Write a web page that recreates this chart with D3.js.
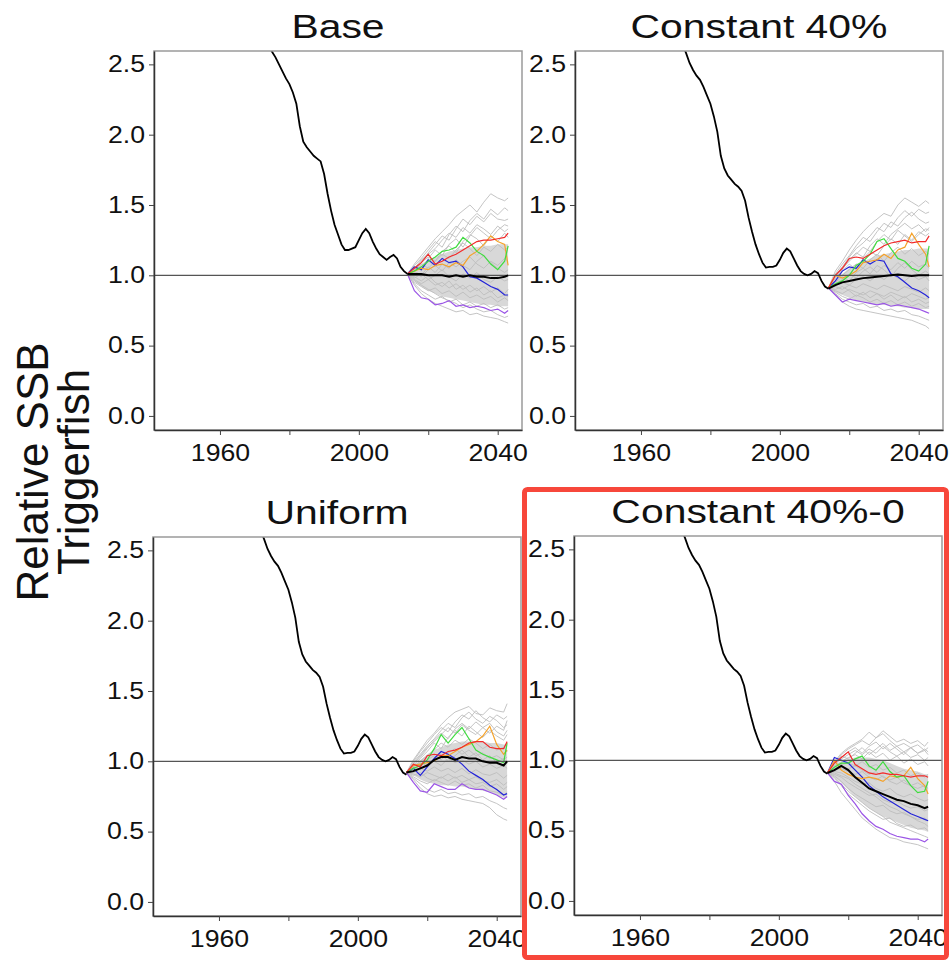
<!DOCTYPE html>
<html>
<head>
<meta charset="utf-8">
<script src="https://cdn.jsdelivr.net/npm/d3@7"></script>
<style>
  body { margin: 0; background: #fff; }
  text { font-family: "Liberation Sans", Arial, sans-serif; }
</style>
</head>
<body>
<script>
// ---- data ----
const panelTitles = ["Base", "Constant 40%", "Uniform", "Constant 40%-0"];

const histYears = [1970,1971,1972,1973,1974,1975,1976,1977,1978,1979,1980,1981,1982,1983,1984,1985,1986,1987,1988,1989,
  1990,1991,1992,1993,1994,1995,1996,1997,1998,1999,2000,2001,2002,2003,2004,2005,2006,2007,2008,2009,2010,2011,2012,2013,2014];
// base model scaled history
const histBase = [2.80,2.76,2.72,2.67,2.63,2.59,2.55,2.50,2.45,2.40,2.36,2.30,2.22,2.06,1.95,1.91,1.88,1.85,1.83,1.81,
  1.72,1.58,1.46,1.36,1.29,1.22,1.18,1.18,1.19,1.20,1.25,1.30,1.33,1.30,1.24,1.19,1.15,1.13,1.11,1.13,1.145,1.12,1.06,1.03,1.01];
// history used by the other three scenarios
const histOther = [2.75,2.70,2.64,2.58,2.51,2.46,2.42,2.39,2.34,2.28,2.22,2.13,2.02,1.85,1.76,1.71,1.68,1.65,1.63,1.60,
  1.53,1.41,1.31,1.22,1.15,1.09,1.055,1.06,1.06,1.07,1.11,1.16,1.19,1.17,1.12,1.07,1.03,1.01,1.00,1.01,1.03,1.015,0.96,0.92,0.905];

const projYears = [2014,2016,2018,2020,2022,2024,2026,2028,2030,2032,2034,2036,2038,2040,2042,2043];

// Base
const medBase    = [1.01,1.01,1.01,1.00,1.00,1.00,0.99,1.00,0.99,1.00,0.99,0.99,0.98,0.98,0.99,1.00];
const redBase    = [1.01,1.05,1.09,1.15,1.08,1.10,1.13,1.15,1.18,1.21,1.24,1.25,1.25,1.26,1.27,1.30];
const greenBase  = [1.01,1.03,1.06,1.10,1.13,1.17,1.18,1.20,1.27,1.23,1.17,1.14,1.08,1.04,1.10,1.21];
const orangeBase = [1.01,1.03,1.05,1.04,1.07,1.08,1.06,1.09,1.07,1.14,1.17,1.22,1.28,1.24,1.22,1.07];
const blueBase   = [1.01,1.06,1.04,1.11,1.07,1.12,1.09,1.10,1.06,0.99,0.98,0.95,0.92,0.90,0.86,0.86];
const purpleBase = [1.01,0.89,0.84,0.83,0.79,0.80,0.82,0.78,0.79,0.77,0.78,0.77,0.75,0.76,0.73,0.75];
const bandHiBase = [1.01,1.05,1.08,1.11,1.13,1.15,1.17,1.18,1.19,1.20,1.20,1.21,1.21,1.22,1.22,1.22];
const bandLoBase = [1.01,0.96,0.92,0.89,0.87,0.85,0.84,0.83,0.82,0.81,0.80,0.79,0.79,0.78,0.78,0.78];
const grayBase = [
  [1.01,1.08,1.14,1.20,1.26,1.31,1.36,1.42,1.46,1.50,1.45,1.52,1.58,1.55,1.53,1.55],
  [1.01,1.05,1.10,1.16,1.22,1.28,1.25,1.33,1.40,1.36,1.42,1.38,1.44,1.40,1.39,1.40],
  [1.01,1.06,1.04,1.12,1.18,1.14,1.22,1.26,1.20,1.28,1.34,1.30,1.26,1.32,1.36,1.35],
  [1.01,1.03,1.08,1.05,1.10,1.15,1.12,1.18,1.23,1.19,1.14,1.20,1.17,1.22,1.18,1.20],
  [1.01,1.02,0.99,1.04,1.07,1.03,1.09,1.06,1.10,1.13,1.08,1.05,1.10,1.07,1.12,1.10],
  [1.01,0.98,1.01,0.97,1.00,1.04,0.99,0.96,1.01,0.98,1.02,0.97,0.95,0.99,0.96,0.97],
  [1.01,0.97,0.94,0.97,0.93,0.95,0.91,0.94,0.90,0.93,0.89,0.92,0.88,0.91,0.87,0.90],
  [1.01,0.95,0.92,0.89,0.91,0.87,0.89,0.85,0.88,0.84,0.86,0.83,0.85,0.81,0.84,0.82],
  [1.01,0.94,0.89,0.86,0.83,0.85,0.81,0.83,0.79,0.81,0.78,0.80,0.77,0.79,0.76,0.77],
  [1.01,0.93,0.87,0.83,0.80,0.78,0.76,0.74,0.75,0.72,0.73,0.71,0.70,0.69,0.67,0.66],
  [1.01,1.04,1.09,1.13,1.10,1.17,1.21,1.16,1.24,1.29,1.26,1.21,1.28,1.24,1.30,1.27],
  [1.01,0.99,0.96,1.00,0.95,0.92,0.96,0.90,0.93,0.88,0.91,0.86,0.89,0.84,0.86,0.85],
  [1.01,1.07,1.12,1.18,1.24,1.20,1.29,1.35,1.31,1.39,1.44,1.40,1.47,1.43,1.48,1.46],
  [1.01,1.05,1.11,1.15,1.19,1.25,1.30,1.27,1.34,1.30,1.36,1.33,1.29,1.35,1.31,1.33],
  [1.01,1.03,1.00,1.06,1.02,1.08,1.05,1.11,1.07,1.04,1.10,1.14,1.09,1.05,1.02,1.04],
  [1.01,0.96,0.93,0.90,0.87,0.84,0.82,0.80,0.77,0.79,0.76,0.74,0.75,0.72,0.70,0.71]
];

// Constant 40%
const medC40    = [0.905,0.93,0.95,0.96,0.97,0.98,0.985,0.99,0.995,1.00,1.005,1.00,0.995,1.00,1.00,1.00];
const redC40    = [0.91,1.00,1.05,1.12,1.13,1.12,1.15,1.18,1.21,1.23,1.24,1.25,1.23,1.24,1.24,1.28];
const greenC40  = [0.91,0.94,0.96,1.00,1.07,1.10,1.15,1.24,1.26,1.19,1.12,1.10,1.05,1.03,1.08,1.21];
const orangeC40 = [0.91,1.00,0.98,1.00,1.03,1.09,1.10,1.11,1.15,1.12,1.18,1.20,1.30,1.22,1.15,1.06];
const blueC40   = [0.91,0.96,1.03,1.06,1.05,1.11,1.08,1.11,1.10,1.01,0.99,0.95,0.91,0.89,0.86,0.84];
const purpleC40 = [0.91,0.86,0.81,0.83,0.82,0.81,0.80,0.79,0.80,0.78,0.79,0.78,0.77,0.76,0.74,0.73];
const bandHiC40 = [0.91,0.97,1.01,1.05,1.08,1.10,1.12,1.14,1.15,1.16,1.17,1.18,1.18,1.19,1.19,1.19];
const bandLoC40 = [0.91,0.88,0.86,0.84,0.82,0.81,0.80,0.79,0.79,0.78,0.78,0.77,0.77,0.76,0.76,0.76];
const grayC40 = [
  [0.91,1.03,1.10,1.18,1.25,1.31,1.36,1.40,1.44,1.42,1.50,1.55,1.52,1.49,1.53,1.51],
  [0.91,1.00,1.06,1.13,1.19,1.23,1.28,1.34,1.31,1.38,1.35,1.41,1.45,1.40,1.37,1.38],
  [0.91,0.98,1.03,1.08,1.04,1.12,1.17,1.14,1.21,1.26,1.22,1.29,1.25,1.31,1.28,1.30],
  [0.91,0.96,1.00,1.04,1.08,1.05,1.11,1.15,1.10,1.16,1.20,1.15,1.19,1.14,1.17,1.15],
  [0.91,0.94,0.97,1.01,0.98,1.03,1.06,1.02,1.07,1.04,1.09,1.05,1.10,1.06,1.08,1.05],
  [0.91,0.93,0.95,0.93,0.97,0.99,0.96,1.00,0.97,1.01,0.98,0.96,1.00,0.97,0.99,0.96],
  [0.91,0.92,0.90,0.93,0.91,0.94,0.92,0.90,0.93,0.91,0.89,0.92,0.90,0.88,0.91,0.89],
  [0.91,0.89,0.87,0.90,0.88,0.86,0.89,0.87,0.85,0.88,0.86,0.84,0.87,0.85,0.83,0.84],
  [0.91,0.88,0.85,0.83,0.86,0.84,0.81,0.83,0.80,0.82,0.79,0.81,0.78,0.80,0.77,0.78],
  [0.91,0.86,0.81,0.78,0.76,0.75,0.74,0.73,0.72,0.71,0.70,0.69,0.68,0.66,0.64,0.62],
  [0.91,0.99,1.05,1.10,1.15,1.20,1.17,1.24,1.29,1.25,1.32,1.28,1.24,1.29,1.33,1.32],
  [0.91,0.90,0.92,0.89,0.85,0.88,0.84,0.87,0.83,0.86,0.82,0.85,0.81,0.83,0.80,0.81],
  [0.91,1.01,1.08,1.14,1.21,1.27,1.24,1.31,1.37,1.34,1.41,1.46,1.42,1.47,1.44,1.45],
  [0.91,0.98,1.04,1.11,1.16,1.13,1.21,1.26,1.22,1.29,1.33,1.37,1.33,1.36,1.31,1.34],
  [0.91,0.95,0.99,0.96,1.02,1.05,1.01,1.07,1.04,0.99,1.05,1.09,1.04,1.00,1.03,1.01],
  [0.91,0.87,0.83,0.81,0.79,0.80,0.77,0.78,0.75,0.76,0.74,0.75,0.72,0.71,0.69,0.68]
];

// Uniform
const medUni    = [0.92,0.93,0.95,0.97,1.01,1.03,1.03,1.01,1.03,1.02,1.02,1.00,0.99,0.99,0.97,1.00];
const redUni    = [0.92,0.98,0.96,1.04,1.05,1.04,1.07,1.08,1.10,1.13,1.14,1.14,1.10,1.09,1.09,1.14];
const greenUni  = [0.92,0.95,0.97,1.01,1.09,1.19,1.13,1.19,1.24,1.16,1.08,1.05,1.03,1.01,0.99,1.13];
const orangeUni = [0.92,0.97,0.98,0.99,1.00,1.04,1.04,1.07,1.10,1.12,1.14,1.18,1.25,1.12,1.05,1.08];
const blueUni   = [0.92,0.95,0.90,0.96,1.02,1.07,1.05,1.02,0.98,0.93,0.90,0.87,0.83,0.80,0.76,0.77];
const purpleUni = [0.92,0.85,0.79,0.78,0.84,0.82,0.80,0.80,0.84,0.81,0.80,0.80,0.78,0.76,0.73,0.75];
const bandHiUni = [0.92,0.97,1.01,1.05,1.08,1.10,1.12,1.13,1.14,1.14,1.14,1.14,1.13,1.13,1.12,1.12];
const bandLoUni = [0.92,0.90,0.87,0.85,0.84,0.83,0.83,0.82,0.82,0.81,0.80,0.79,0.78,0.76,0.74,0.74];
const grayUni = [
  [0.92,1.01,1.08,1.15,1.20,1.26,1.31,1.35,1.37,1.39,1.34,1.33,1.38,1.36,1.35,1.41],
  [0.92,0.99,1.05,1.11,1.16,1.22,1.27,1.24,1.31,1.35,1.30,1.27,1.32,1.29,1.24,1.26],
  [0.92,0.97,1.02,1.07,1.13,1.09,1.17,1.22,1.18,1.25,1.21,1.17,1.22,1.18,1.15,1.19],
  [0.92,0.96,1.00,1.04,1.08,1.13,1.10,1.15,1.12,1.16,1.13,1.09,1.12,1.08,1.10,1.07],
  [0.92,0.94,0.97,1.01,1.04,1.01,1.06,1.09,1.05,1.08,1.04,1.06,1.02,1.04,1.01,1.03],
  [0.92,0.95,0.94,0.98,1.00,0.97,1.02,0.99,1.01,0.98,1.00,0.96,0.98,0.95,0.97,0.95],
  [0.92,0.92,0.95,0.93,0.96,0.93,0.95,0.92,0.95,0.91,0.94,0.91,0.90,0.92,0.88,0.90],
  [0.92,0.91,0.89,0.92,0.90,0.88,0.91,0.88,0.90,0.87,0.89,0.86,0.85,0.87,0.83,0.85],
  [0.92,0.89,0.86,0.84,0.87,0.85,0.83,0.86,0.83,0.84,0.81,0.83,0.79,0.78,0.76,0.78],
  [0.92,0.87,0.81,0.77,0.75,0.76,0.74,0.75,0.73,0.72,0.71,0.70,0.67,0.62,0.59,0.58],
  [0.92,0.98,1.03,1.09,1.15,1.20,1.16,1.23,1.27,1.23,1.28,1.24,1.20,1.25,1.22,1.29],
  [0.92,0.90,0.92,0.88,0.86,0.89,0.86,0.89,0.85,0.87,0.84,0.85,0.82,0.84,0.80,0.82],
  [0.92,1.00,1.07,1.13,1.19,1.24,1.21,1.28,1.33,1.30,1.36,1.31,1.28,1.33,1.30,1.32],
  [0.92,0.98,1.04,1.10,1.14,1.19,1.24,1.20,1.26,1.22,1.19,1.24,1.27,1.21,1.18,1.22],
  [0.92,0.96,0.99,0.97,1.02,1.05,1.00,1.04,1.08,1.03,1.06,1.01,1.04,0.99,1.02,0.98],
  [0.92,0.88,0.84,0.80,0.78,0.80,0.77,0.78,0.76,0.77,0.74,0.75,0.72,0.70,0.67,0.66]
];

// Constant 40%-0
const medC40z    = [0.91,0.93,0.96,0.93,0.88,0.84,0.80,0.78,0.76,0.74,0.72,0.71,0.69,0.68,0.66,0.67];
const redC40z    = [0.91,0.98,1.02,1.06,0.97,0.94,0.91,0.90,0.91,0.90,0.90,0.89,0.88,0.89,0.89,0.88];
const greenC40z  = [0.91,0.95,0.98,0.98,1.01,1.03,0.96,0.93,0.99,0.92,0.88,0.89,0.82,0.77,0.78,0.85];
const orangeC40z = [0.91,1.00,0.93,0.90,0.88,0.87,0.88,0.87,0.85,0.89,0.88,0.89,0.95,0.87,0.82,0.76];
const blueC40z   = [0.91,1.02,1.00,0.98,0.93,0.88,0.82,0.78,0.74,0.71,0.68,0.65,0.62,0.60,0.58,0.57];
const purpleC40z = [0.91,0.85,0.83,0.75,0.69,0.62,0.57,0.53,0.51,0.48,0.46,0.45,0.44,0.44,0.42,0.44];
const bandHiC40z = [0.91,0.96,0.99,1.01,1.02,1.02,1.02,1.01,1.00,0.98,0.96,0.94,0.93,0.92,0.90,0.90];
const bandLoC40z = [0.91,0.88,0.84,0.79,0.74,0.70,0.66,0.63,0.60,0.58,0.56,0.54,0.52,0.51,0.50,0.49];
const grayC40z = [
  [0.91,0.99,1.05,1.09,1.12,1.15,1.20,1.16,1.21,1.17,1.13,1.15,1.12,1.14,1.10,1.13],
  [0.91,0.97,1.02,1.06,1.09,1.05,1.10,1.13,1.08,1.12,1.08,1.04,1.09,1.05,1.07,1.04],
  [0.91,0.96,0.99,1.02,1.04,1.01,1.06,1.02,1.05,1.00,1.03,0.98,1.01,0.97,0.99,0.96],
  [0.91,0.94,0.97,0.98,0.96,0.99,0.95,0.97,0.93,0.95,0.91,0.93,0.89,0.91,0.88,0.90],
  [0.91,0.93,0.94,0.92,0.90,0.92,0.88,0.86,0.89,0.85,0.83,0.86,0.82,0.80,0.82,0.80],
  [0.91,0.92,0.91,0.88,0.85,0.83,0.84,0.80,0.78,0.80,0.76,0.74,0.76,0.73,0.71,0.72],
  [0.91,0.90,0.88,0.84,0.81,0.78,0.75,0.76,0.72,0.70,0.71,0.68,0.66,0.67,0.64,0.65],
  [0.91,0.89,0.85,0.80,0.76,0.73,0.70,0.67,0.68,0.64,0.62,0.63,0.60,0.58,0.59,0.57],
  [0.91,0.87,0.82,0.76,0.72,0.68,0.64,0.61,0.58,0.59,0.55,0.53,0.54,0.51,0.52,0.50],
  [0.91,0.85,0.77,0.71,0.65,0.59,0.55,0.51,0.48,0.45,0.44,0.42,0.41,0.40,0.38,0.37],
  [0.91,0.98,1.03,1.01,1.05,1.09,1.04,1.08,1.12,1.07,1.10,1.06,1.09,1.05,1.08,1.06],
  [0.91,0.91,0.89,0.87,0.83,0.80,0.77,0.74,0.70,0.67,0.65,0.62,0.60,0.57,0.55,0.53],
  [0.91,0.98,1.04,1.08,1.11,1.14,1.11,1.16,1.19,1.14,1.10,1.12,1.09,1.11,1.07,1.09],
  [0.91,0.96,1.01,1.04,1.07,1.04,1.08,1.05,1.10,1.06,1.03,1.06,1.02,1.04,1.00,1.02],
  [0.91,0.93,0.95,0.94,0.96,0.93,0.90,0.92,0.88,0.86,0.88,0.84,0.82,0.84,0.81,0.83],
  [0.91,0.88,0.83,0.78,0.74,0.70,0.66,0.63,0.60,0.56,0.54,0.52,0.50,0.48,0.46,0.45]
];

const yTicks = [0, 0.5, 1, 1.5, 2, 2.5];
const xTicks = [1960, 1980, 2000, 2020, 2040];
const xTickLabels = [1960, 2000, 2040];

// ---- assemble panels ----
const panels = [
  { title: panelTitles[0], hist: histBase,  med: medBase,  gray: grayBase,  hi: bandHiBase, lo: bandLoBase,
    runs: [purpleBase, blueBase, orangeBase, greenBase, redBase] },
  { title: panelTitles[1], hist: histOther, med: medC40,   gray: grayC40,   hi: bandHiC40,  lo: bandLoC40,
    runs: [purpleC40, blueC40, orangeC40, greenC40, redC40] },
  { title: panelTitles[2], hist: histOther, med: medUni,   gray: grayUni,   hi: bandHiUni,  lo: bandLoUni,
    runs: [purpleUni, blueUni, orangeUni, greenUni, redUni] },
  { title: panelTitles[3], hist: histOther, med: medC40z,  gray: grayC40z,  hi: bandHiC40z, lo: bandLoC40z,
    runs: [purpleC40z, blueC40z, orangeC40z, greenC40z, redC40z] }
];
const runColors = ["#9b55e6", "#2323d8", "#f5a22a", "#3fdc3f", "#f22a2a"];

// panel plot areas (left, top)
const layout = [{ x: 154, y: 51 }, { x: 575, y: 51 }, { x: 153, y: 537 }, { x: 574, y: 536 }];
const pw = 368, ph = 379;
const stretch = 1.16; // the source figure's tick text is drawn a little wide

const svg = d3.select("body").append("svg")
    .attr("width", 951)
    .attr("height", 961);

panels.forEach((p, i) => {
    const left = layout[i].x, top = layout[i].y;
    const x = d3.scaleLinear().domain([1941, 2047]).range([left, left + pw]);
    const y = d3.scaleLinear().domain([-0.1, 2.595]).range([top + ph, top]);

    const g = svg.append("g");
    g.append("clipPath").attr("id", "clip" + i)
        .append("rect").attr("x", left).attr("y", top).attr("width", pw).attr("height", ph);

    const plot = g.append("g").attr("clip-path", `url(#clip${i})`);
    const line = d3.line().x(d => x(d[0])).y(d => y(d[1]));
    const proj = vals => projYears.map((yr, k) => [yr, vals[k]]);

    // dense core of the simulation cloud
    plot.append("path")
        .datum(projYears.map((yr, k) => [yr, p.lo[k], p.hi[k]]))
        .attr("fill", "#d8d8d8")
        .attr("d", d3.area().x(d => x(d[0])).y0(d => y(d[1])).y1(d => y(d[2])));

    // individual simulations
    plot.selectAll(".gray")
        .data(p.gray)
        .enter().append("path")
        .attr("class", "gray")
        .attr("fill", "none")
        .attr("stroke", "#bdbdbd")
        .attr("stroke-width", 0.9)
        .attr("d", d => line(proj(d)));

    plot.selectAll(".run")
        .data(p.runs)
        .enter().append("path")
        .attr("class", "run")
        .attr("fill", "none")
        .attr("stroke", (d, k) => runColors[k])
        .attr("stroke-width", 1.2)
        .attr("d", d => line(proj(d)));

    // reference line at 1
    plot.append("line")
        .attr("x1", left).attr("x2", left + pw)
        .attr("y1", y(1)).attr("y2", y(1))
        .attr("stroke", "#555")
        .attr("stroke-width", 1.2);

    plot.append("path")
        .attr("fill", "none")
        .attr("stroke", "#000")
        .attr("stroke-width", 2)
        .attr("d", line(proj(p.med)));

    plot.append("path")
        .attr("fill", "none")
        .attr("stroke", "#000")
        .attr("stroke-width", 1.8)
        .attr("d", line(histYears.map((yr, k) => [yr, p.hist[k]])));

    // frame
    g.append("rect")
        .attr("x", left).attr("y", top).attr("width", pw).attr("height", ph)
        .attr("fill", "none").attr("stroke", "#9a9a9a").attr("stroke-width", 1.5);

    const yAxis = g.append("g")
        .attr("transform", `translate(${left},0)`)
        .call(d3.axisLeft(y).tickValues(yTicks).tickFormat(d3.format(".1f"))
            .tickSize(5).tickSizeOuter(0).tickPadding(4));
    const xAxis = g.append("g")
        .attr("transform", `translate(0,${top + ph})`)
        .call(d3.axisBottom(x).tickValues(xTicks)
            .tickFormat(d => xTickLabels.includes(d) ? d : "")
            .tickSize(5).tickSizeOuter(0).tickPadding(10));
    [yAxis, xAxis].forEach(a => {
        a.select(".domain").attr("stroke", "#333").attr("stroke-width", 1.5);
        a.selectAll(".tick line").attr("stroke", "#444");
        a.selectAll("text").attr("font-size", 23).attr("fill", "#111")
            .attr("font-family", '"Liberation Sans", Arial, sans-serif')
            .attr("transform", `scale(${stretch},1)`);
    });
    yAxis.selectAll("text").attr("x", -9 / stretch);

    g.append("text")
        .attr("transform", `translate(${left + pw / 2},${top - 13}) scale(1.24,1)`)
        .attr("text-anchor", "middle")
        .attr("font-size", 33)
        .attr("fill", "#111")
        .text(p.title);
});

// shared y axis title
const yTitle = ["Relative SSB", "Triggerfish"];
svg.selectAll(".ytitle")
    .data(yTitle)
    .enter().append("text")
    .attr("class", "ytitle")
    .attr("transform", (d, k) => `translate(${48 + k * 41},472) rotate(-90)`)
    .attr("text-anchor", "middle")
    .attr("font-size", 44)
    .attr("fill", "#111")
    .text(d => d);

// highlight box around the last panel
svg.append("rect")
    .attr("x", 524.5).attr("y", 489.5)
    .attr("width", 422).attr("height", 468)
    .attr("rx", 3)
    .attr("fill", "none")
    .attr("stroke", "#f7473b")
    .attr("stroke-width", 5);
</script>
</body>
</html>
